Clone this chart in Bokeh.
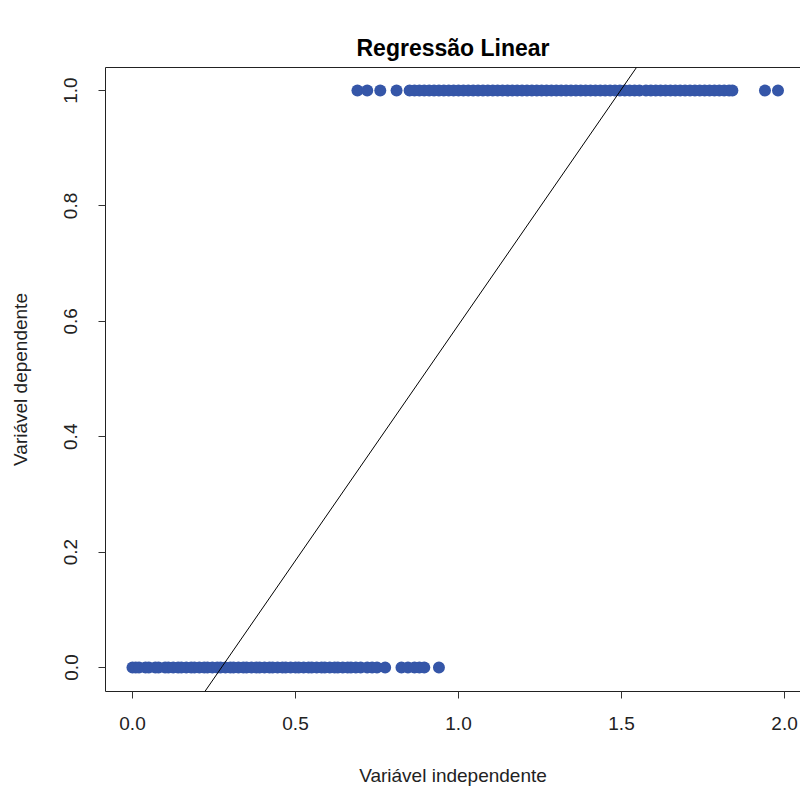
from bokeh.plotting import figure
from bokeh.models import Slope, Range1d, FixedTicker, LinearAxis
from bokeh.embed import file_html
from bokeh.resources import INLINE

# observations with y = 0
x_zero = [0.00, 0.01, 0.02, 0.04, 0.05, 0.07, 0.08, 0.10, 0.11, 0.125, 0.14, 0.15,
          0.165, 0.18, 0.19, 0.205, 0.22, 0.23, 0.245, 0.26, 0.27, 0.285, 0.30, 0.31,
          0.325, 0.34, 0.35, 0.365, 0.38, 0.39, 0.405, 0.42, 0.43, 0.445, 0.46, 0.47,
          0.485, 0.50, 0.51, 0.525, 0.54, 0.55, 0.565, 0.58, 0.59, 0.605, 0.62, 0.63,
          0.645, 0.66, 0.67, 0.685, 0.70, 0.72, 0.735, 0.75, 0.775, 0.825, 0.845,
          0.865, 0.88, 0.895, 0.94]
y_zero = [0] * len(x_zero)

# observations with y = 1
x_one = [0.69, 0.72, 0.76, 0.81, 0.85, 0.865, 0.88, 0.895, 0.91, 0.925, 0.94, 0.955,
         0.97, 0.985, 1.00, 1.015, 1.03, 1.045, 1.06, 1.075, 1.09, 1.105, 1.12, 1.135,
         1.15, 1.165, 1.18, 1.195, 1.21, 1.225, 1.24, 1.255, 1.27, 1.285, 1.30, 1.315,
         1.33, 1.345, 1.36, 1.375, 1.39, 1.405, 1.42, 1.435, 1.45, 1.465, 1.48, 1.495,
         1.51, 1.525, 1.54, 1.555, 1.575, 1.59, 1.605, 1.62, 1.635, 1.65, 1.665, 1.68,
         1.695, 1.71, 1.725, 1.74, 1.755, 1.77, 1.785, 1.80, 1.815, 1.83, 1.84,
         1.94, 1.98]
y_one = [1] * len(x_one)

# fitted linear regression
intercept = -0.223
slope = 0.817

x_ticks = [0.0, 0.5, 1.0, 1.5, 2.0]
y_ticks = [0.0, 0.2, 0.4, 0.6, 0.8, 1.0]

FONT = "Liberation Sans"
BLUE = "#3556A8"
BOX = "#222222"

p = figure(width=800, height=791, output_backend="svg", toolbar_location=None,
           x_range=Range1d(-0.0828, 2.049), y_range=Range1d(-0.0416, 1.04),
           min_border_left=105, min_border_right=0, min_border_top=67,
           min_border_bottom=100, title="Regressão Linear")

p.background_fill_color = "white"
p.border_fill_color = "white"
p.grid.visible = False
p.outline_line_color = None

p.title.text_font = FONT
p.title.text_font_size = "23px"
p.title.text_font_style = "bold"
p.title.text_color = "black"
p.title.align = "center"
p.title.vertical_align = "top"
p.title.standoff = 10

p.scatter(x_zero, y_zero, size=12, color=BLUE, line_color=None)
p.scatter(x_one, y_one, size=12, color=BLUE, line_color=None)

p.add_layout(Slope(gradient=slope, y_intercept=intercept, line_color="black", line_width=1))

xa = p.below[0]
ya = p.left[0]
for ax in (xa, ya):
    ax.axis_line_color = BOX
    ax.major_tick_in = 0
    ax.major_tick_out = 7
    ax.major_tick_line_color = "#333333"
    ax.minor_tick_line_color = None
    ax.major_label_text_font = FONT
    ax.major_label_text_font_size = "19px"
    ax.major_label_text_color = "#222222"
    ax.axis_label_text_font = FONT
    ax.axis_label_text_font_size = "19px"
    ax.axis_label_text_font_style = "normal"
    ax.axis_label_text_color = "#222222"

xa.ticker = FixedTicker(ticks=x_ticks)
ya.ticker = FixedTicker(ticks=y_ticks)
xa.major_label_overrides = {t: f"{t:.1f}" for t in x_ticks}
ya.major_label_overrides = {t: f"{t:.1f}" for t in y_ticks}
xa.axis_label = "Variável independente"
ya.axis_label = "Variável dependente"
xa.major_label_standoff = 18
xa.axis_label_standoff = 32
ya.major_label_orientation = "vertical"
ya.major_label_standoff = 21
ya.axis_label_standoff = 31

# top edge of the box
top = LinearAxis(ticker=FixedTicker(ticks=[]), axis_line_color=BOX,
                 major_tick_out=0, major_tick_in=0, minor_tick_out=0, minor_tick_in=0,
                 major_label_text_font_size="0px", major_label_standoff=0)
p.add_layout(top, "above")

open("out.html", "w").write(file_html(p, INLINE))
